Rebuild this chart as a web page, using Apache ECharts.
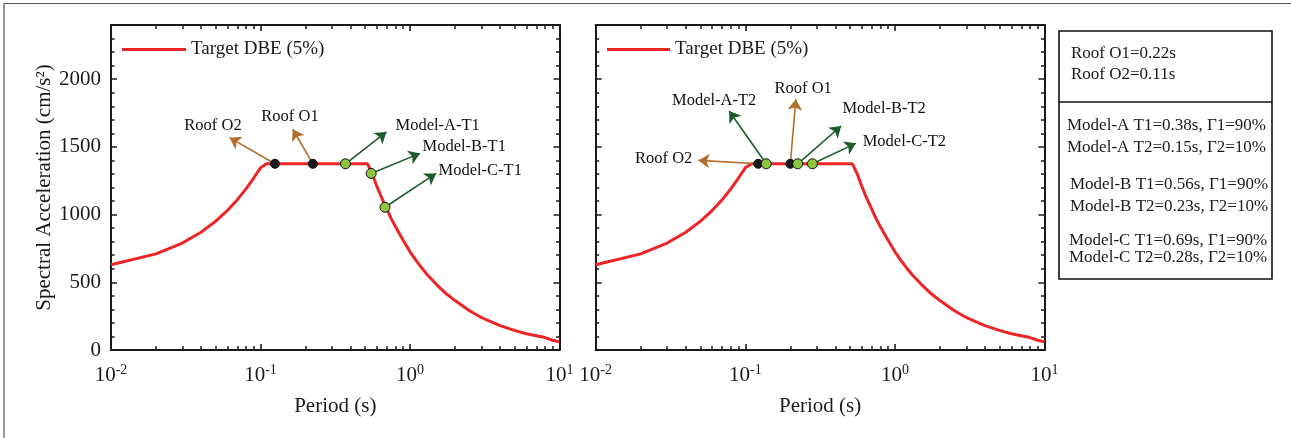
<!DOCTYPE html>
<html><head><meta charset="utf-8">
<script src="https://cdn.jsdelivr.net/npm/echarts@6/dist/echarts.min.js"></script>
<style>html,body{margin:0;padding:0;background:#fff}#c{width:1291px;height:438px}</style>
</head><body><div id="c"></div>
<script>
// ---- data ----
const periods  = [0.01,0.02,0.03,0.04,0.05,0.06,0.07,0.08,0.09,0.10,0.11,0.52,0.56,0.60,0.65,0.70,0.75,0.80,0.90,1.0,1.1,1.2,1.3,1.5,1.75,2.0,2.5,3.0,3.5,4.0,5.0,6.0,7.0,8.0,9.0,10.0];
const targetSa = [630,710,790,870,950,1030,1110,1190,1270,1345,1375,1375,1300,1210,1117,1040,968,910,810,725,660,605,558,485,415,365,290,240,207,180,145,120,105,92,72,60];

const roofLeft   = [[0.125,1375],[0.224,1375]];
const modelLeft  = [[0.37,1375],[0.55,1304],[0.68,1054]];
const roofRight  = [[0.122,1375],[0.200,1375]];
const modelRight = [[0.138,1375],[0.224,1375],[0.281,1375]];

const roofLeftTips   = [[0.0621,1568],[0.1644,1630]];
const modelLeftTips  = [[0.696,1610],[1.166,1452],[1.493,1304]];
const roofRightTips  = [[0.0486,1400],[0.2177,1852]];
const modelRightTips = [[0.078,1765],[0.4375,1654],[0.548,1526]];

const labelsLeft = [
  [0.0481,1659,'Roof O2','c'],
  [0.1575,1726,'Roof O1','c'],
  [0.794,1659,'Model-A-T1','l'],
  [1.203,1504,'Model-B-T1','l'],
  [1.539,1326,'Model-C-T1','l']
];
const labelsRight = [
  [0.0446,1415,'Roof O2','r'],
  [0.0619,1844,'Model-A-T2','c'],
  [0.2436,1933,'Roof O1','c'],
  [0.4424,1785,'Model-B-T2','l'],
  [0.604,1536,'Model-C-T2','l']
];

const infoTop = ['Roof O1=0.22s','Roof O2=0.11s'];
const infoBottom = [
  'Model-A T1=0.38s, \u03931=90%','Model-A T2=0.15s, \u03932=10%',
  'Model-B T1=0.56s, \u03931=90%','Model-B T2=0.23s, \u03932=10%',
  'Model-C T1=0.69s, \u03931=90%','Model-C T2=0.28s, \u03932=10%'
];
const xTickExponents = ['-2','-1','0','1'];
const legendName = 'Target DBE (5%)';

const FONT = 'Liberation Serif';
const INK = '#1a1a1a';
const RED = '#ee2427';
const BROWN = '#b06f2c';
const GREEN = '#1d5a2c';
const LIGHTGREEN = '#8cc63f';
const YMAX = 2400;

const chart = echarts.init(document.getElementById('c'), null, {renderer:'canvas'});

function xAxesFor(g){
  const common = {
    type:'log', logBase:10, min:0.01, max:10, gridIndex:g,
    axisLine:{show:true, onZero:false, lineStyle:{color:INK, width:2}},
    axisTick:{show:true, inside:true, length:6, lineStyle:{color:INK, width:1.6}},
    splitLine:{show:false}
  };
  return [
    Object.assign({}, common, {
      position:'bottom',
      axisLabel:{show:true, margin:13, color:INK,
        formatter:function(v){ const i = Math.round(Math.log10(v)) + 2; return '{b|10}{s|' + xTickExponents[i] + '}'; },
        rich:{ b:{fontFamily:FONT, fontSize:21, color:INK, lineHeight:24},
               s:{fontFamily:FONT, fontSize:14, color:INK, lineHeight:14, verticalAlign:'top'} }},
      name:'Period (s)', nameLocation:'middle', nameGap:46,
      nameTextStyle:{fontFamily:FONT, fontSize:21, color:INK}
    }),
    Object.assign({}, common, {position:'top', axisLabel:{show:false}})
  ];
}
function yAxesFor(g, labels){
  const common = {
    type:'value', min:0, max:YMAX, interval:500, gridIndex:g,
    axisLine:{show:true, onZero:false, lineStyle:{color:INK, width:2}},
    axisTick:{show:true, inside:true, length:6, lineStyle:{color:INK, width:1.5}},
    minorTick:{show:true, splitNumber:5, length:3.5, lineStyle:{color:INK, width:1.5}},
    splitLine:{show:false}
  };
  const left = Object.assign({}, common, {
    position:'left',
    axisLabel:{show:labels, showMaxLabel:false, margin:10, fontFamily:FONT, fontSize:21, color:INK,
      formatter:function(v){ return String(v); }}
  });
  if (labels) {
    left.name = 'Spectral Acceleration (cm/s\u00B2)';
    left.nameLocation = 'middle';
    left.nameGap = 55;
    left.nameTextStyle = {fontFamily:FONT, fontSize:21, color:INK};
  }
  return [left, Object.assign({}, common, {position:'right', axisLabel:{show:false}})];
}

// log minor tick positions (2..9 per decade), drawn through the chart's own scales
const minorTickT = [];
for (let e = -2; e <= 0; e++) for (let m = 2; m <= 9; m++) minorTickT.push(m*Math.pow(10,e));

function logTicks(xi, yi){
  const minorLen = YMAX * 4 / 325;
  const d = [];
  minorTickT.forEach(t => {
    d.push({coords:[[t,0],[t,minorLen]]});
    d.push({coords:[[t,YMAX],[t,YMAX-minorLen]]});
  });
  return {type:'lines', coordinateSystem:'cartesian2d', xAxisIndex:xi, yAxisIndex:yi, z:4, silent:true,
    symbol:['none','none'], lineStyle:{color:INK, width:1.5, opacity:1}, data:d};
}
function arrows(xi, yi, starts, tips, color){
  return {
    type:'lines', coordinateSystem:'cartesian2d', xAxisIndex:xi, yAxisIndex:yi, z:3, silent:true,
    symbol:['none','arrow'], symbolSize:[4,11],
    lineStyle:{color:color, width:1.6, opacity:1},
    data: starts.map((s,i)=>({coords:[s, tips[i]]}))
  };
}
function markers(xi, yi, pts, color, size){
  return {type:'scatter', xAxisIndex:xi, yAxisIndex:yi, z:6, symbol:'circle', symbolSize:size,
    itemStyle:{color:color, borderColor:'#111', borderWidth:1, opacity:1}, data:pts, silent:true};
}
function labelSeries(xi, yi, items){
  return {type:'scatter', xAxisIndex:xi, yAxisIndex:yi, z:7, symbolSize:1, silent:true,
    itemStyle:{color:'rgba(0,0,0,0)'},
    data: items.map(it=>({
      value:[it[0], it[1]],
      label:{show:true, formatter:it[2], fontFamily:FONT, fontSize:16.5, color:'#111',
        textBorderWidth:0, opacity:1,
        position: it[3]==='l' ? 'right' : (it[3]==='r' ? 'left' : 'inside'), distance:0}
    }))
  };
}
function curve(xi, yi){
  return {type:'line', name:legendName, xAxisIndex:xi, yAxisIndex:yi, z:2,
    data: periods.map((p,i)=>[p, targetSa[i]]), showSymbol:false, symbol:'none', smooth:false,
    lineStyle:{color:RED, width:3}, itemStyle:{color:RED}};
}

const xa = xAxesFor(0).concat(xAxesFor(1));
const ya = yAxesFor(0, true).concat(yAxesFor(1, false));

const boxX = 1059, boxY = 31, boxW = 213, boxH = 248, divY = 102;
const graphics = [
  {type:'polyline', shape:{points:[[4,440],[4,3.5],[1295,3.5]]}, style:{stroke:'#555', lineWidth:1.2, fill:null}, silent:true},
  {type:'rect', shape:{x:boxX, y:boxY, width:boxW, height:boxH}, style:{stroke:'#111', lineWidth:1.6, fill:null}, silent:true},
  {type:'line', shape:{x1:boxX, y1:divY, x2:boxX+boxW, y2:divY}, style:{stroke:'#111', lineWidth:1.6}, silent:true}
];
const infoTopY = [53.5, 74.5];
const infoBottomY = [126, 148, 184.5, 206.5, 241, 257.5];
const infoTopX = [1071, 1071];
const infoBottomX = [1067, 1067, 1070, 1070, 1069, 1069];
infoTop.forEach((t,i)=>graphics.push({type:'text', x:infoTopX[i], y:infoTopY[i], silent:true,
  style:{text:t, font:'17px "' + FONT + '"', fill:INK, verticalAlign:'middle'}}));
infoBottom.forEach((t,i)=>graphics.push({type:'text', x:infoBottomX[i], y:infoBottomY[i], silent:true,
  style:{text:t, font:'17px "' + FONT + '"', fill:INK, verticalAlign:'middle'}}));

const option = {
  animation:false,
  backgroundColor:'#ffffff',
  textStyle:{fontFamily:FONT},
  grid:[
    {left:111, top:25, width:448.5, height:325},
    {left:595.7, top:25, width:448.8, height:325}
  ],
  xAxis:xa,
  yAxis:ya,
  legend:[
    {left:122, top:40, itemWidth:64, itemHeight:3, icon:'rect', itemGap:0, padding:0,
     data:[legendName], selectedMode:false, textStyle:{fontFamily:FONT, fontSize:19, color:INK}},
    {left:607, top:40, itemWidth:63, itemHeight:3, icon:'rect', itemGap:0, padding:0,
     data:[legendName], selectedMode:false, textStyle:{fontFamily:FONT, fontSize:19, color:INK}}
  ],
  graphic:graphics,
  series:[
    curve(0,0), curve(2,2),
    logTicks(0,0), logTicks(2,2),
    arrows(0,0, roofLeft, roofLeftTips, BROWN),
    arrows(0,0, modelLeft, modelLeftTips, GREEN),
    arrows(2,2, roofRight, roofRightTips, BROWN),
    arrows(2,2, modelRight, modelRightTips, GREEN),
    markers(0,0, roofLeft, INK, 9),
    markers(0,0, modelLeft, LIGHTGREEN, 10),
    markers(2,2, roofRight, INK, 9),
    markers(2,2, modelRight, LIGHTGREEN, 10),
    labelSeries(0,0, labelsLeft),
    labelSeries(2,2, labelsRight)
  ]
};
chart.setOption(option);
</script>
</body></html>
